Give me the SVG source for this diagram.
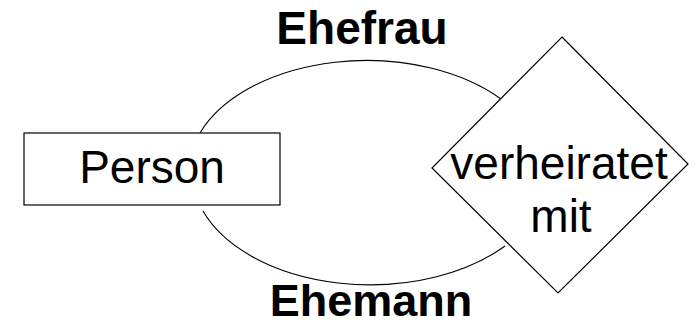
<svg xmlns="http://www.w3.org/2000/svg" width="698" height="326" viewBox="0 0 698 326">
<style>
.shape{fill:#fff;stroke:#000;stroke-width:1.2}
.conn{fill:none;stroke:#000;stroke-width:1.1}
.t{font-family:"Liberation Sans",Arial,sans-serif;font-size:46px;fill:#000;text-anchor:middle}
.b{font-weight:bold}
</style>
<rect width="698" height="326" fill="#fff"/>
<g id="connectors">
<path class="conn" d="M200,133 A178,112 0 0,1 501,99"/>
<path class="conn" d="M203,211 A178,112 0 0,0 505,246"/>
<text class="t b" x="362" y="44">Ehefrau</text>
<text class="t b" x="371" y="316" style="font-size:45px">Ehemann</text>
</g>
<g id="person">
<rect class="shape" x="24" y="133" width="256" height="72"/>
<text class="t" x="152" y="183">Person</text>
</g>
<g id="verheiratet-mit">
<polygon class="shape" points="562,37 688,164 558,293 432,168"/>
<text class="t" x="559" y="179">verheiratet</text>
<text class="t" x="561" y="232">mit</text>
</g>
</svg>
